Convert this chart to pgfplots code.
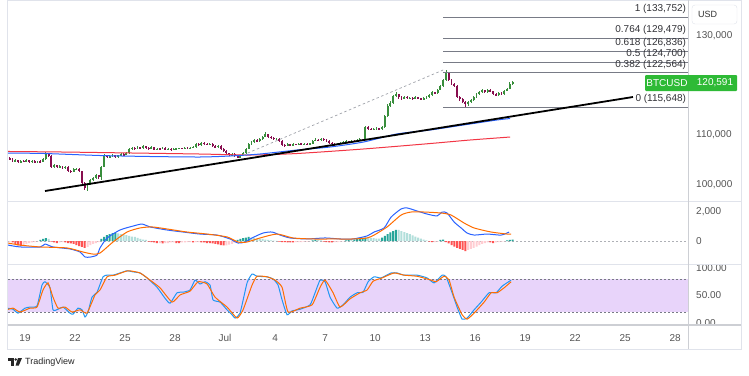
\documentclass[border=0pt]{standalone}
\usepackage{pgfplots}
\pgfplotsset{compat=1.18}
\usepackage{pgfplotstable}
\usepackage{fontspec}
\setmainfont{Liberation Sans}
\definecolor{tvup}{RGB}{56,142,60}
\definecolor{tvdown}{RGB}{136,14,79}
\definecolor{maBlue}{RGB}{41,98,255}
\definecolor{maRed}{RGB}{242,54,69}
\definecolor{sigOrange}{RGB}{255,109,0}
\definecolor{kBlue}{RGB}{33,150,243}
\definecolor{hDT}{RGB}{38,166,154}
\definecolor{hLT}{RGB}{178,223,219}
\definecolor{hR}{RGB}{255,82,82}
\definecolor{hLR}{RGB}{255,205,210}
\definecolor{band}{RGB}{232,212,250}
\definecolor{fibgray}{RGB}{120,123,134}
\definecolor{txt}{RGB}{85,85,85}
\definecolor{fibtxt}{RGB}{50,50,55}
\definecolor{frame}{RGB}{224,227,235}
\definecolor{sep}{RGB}{205,207,212}
\definecolor{tvgreen}{RGB}{46,186,54}

\pgfplotstableread{
i o h l c
0 105400 105600 104900 105100
1 105100 105300 104500 104700
2 104700 105100 104500 104900
3 104900 105000 104300 104500
4 104500 104950 104350 104800
5 104800 105000 104500 104700
6 104700 105100 104500 104900
7 104900 105000 104400 104600
8 104600 105000 104450 104800
9 104800 104900 104300 104500
10 104500 104850 104350 104700
11 104700 104900 104400 104600
12 104600 105300 104500 105100
13 105100 106600 105000 106300
14 106300 106400 105600 105800
15 105800 105900 103300 103500
16 103500 104100 103300 103900
17 103900 104000 103300 103500
18 103500 103900 103300 103700
19 103700 103800 103200 103400
20 103400 103800 103200 103600
21 103600 103700 102600 102800
22 102800 103000 102400 102600
23 102600 103300 102500 103100
24 103100 103400 102900 103200
25 103200 103300 102500 102700
26 102700 102800 99900 100300
27 100300 100500 98900 99300
28 99300 100400 98800 100200
29 100200 101100 100000 100900
30 100900 101500 100700 101300
31 101300 102100 101100 101900
32 101900 102000 101100 101500
33 101500 103800 101000 103600
34 103600 106100 103500 105800
35 105800 106000 105300 105600
36 105600 105950 105400 105700
37 105700 106100 105500 105900
38 105900 106000 105300 105500
39 105500 106050 105350 105900
40 105900 106300 105800 106100
41 106100 106300 105800 106000
42 106000 106500 105900 106300
43 106300 107400 106200 107200
44 107200 107700 107000 107500
45 107500 107600 107000 107200
46 107200 107800 107100 107600
47 107600 107700 107200 107400
48 107400 108000 107300 107800
49 107800 107900 107300 107500
50 107500 107600 107100 107300
51 107300 107750 107200 107600
52 107600 107700 106900 107100
53 107100 107450 106950 107300
54 107300 107500 107000 107200
55 107200 107650 107100 107500
56 107500 107600 106950 107100
57 107100 107450 107000 107300
58 107300 107400 106850 107000
59 107000 107350 106900 107200
60 107200 107400 107100 107300
61 107300 107500 107200 107400
62 107400 107500 107250 107350
63 107350 107600 107250 107500
64 107500 107600 107300 107400
65 107400 107550 107300 107450
66 107450 107750 107350 107600
67 107600 108500 107500 108300
68 108300 108400 107850 108000
69 108000 108700 107900 108500
70 108500 108600 108050 108200
71 108200 108350 107950 108100
72 108100 108500 108000 108300
73 108300 108400 107700 107800
74 107800 107950 107400 107600
75 107600 108050 107500 107900
76 107900 108000 107100 107300
77 107300 107400 106600 106800
78 106800 106900 106100 106300
79 106300 106400 105700 105900
80 105900 106400 105700 106200
81 106200 106300 105500 105700
82 105700 105900 105300 105500
83 105500 106000 105400 105800
84 105800 106500 105700 106300
85 106300 107500 106200 107300
86 107300 108400 107200 108200
87 108200 108900 108000 108700
88 108700 109200 108500 109000
89 109000 109200 108600 108800
90 108800 109500 108700 109300
91 109300 109900 109100 109700
92 109700 110600 109600 110200
93 110200 110300 109400 109600
94 109600 109800 109300 109500
95 109500 109700 109000 109200
96 109200 109500 109000 109300
97 109300 109400 108700 108900
98 108900 109000 107900 108100
99 108100 108300 107700 107900
100 107900 108400 107800 108200
101 108200 108300 107800 108000
102 108000 108350 107900 108200
103 108200 108300 108000 108100
104 108100 108400 108000 108300
105 108300 108400 108100 108200
106 108200 108350 108100 108250
107 108250 108350 108100 108200
108 108200 108450 108100 108300
109 108300 109100 108200 108900
110 108900 109400 108800 109100
111 109100 109200 108800 109000
112 109000 109500 108900 109300
113 109300 109400 108900 109100
114 109100 109200 108700 108900
115 108900 109000 108300 108500
116 108500 108600 108100 108300
117 108300 108400 107900 108100
118 108100 108450 108000 108300
119 108300 108550 108200 108400
120 108400 108750 108300 108600
121 108600 108950 108450 108800
122 108800 108900 108500 108700
123 108700 109050 108600 108900
124 108900 109000 108650 108800
125 108800 109150 108700 109000
126 109000 109400 108900 109200
127 109200 109300 108900 109100
128 109100 111900 109000 111700
129 111700 111800 111100 111300
130 111300 111500 111000 111200
131 111200 111500 111000 111300
132 111300 111600 111100 111400
133 111400 111500 111000 111200
134 111200 111800 111100 111600
135 111600 114000 111500 113800
136 113800 116200 113700 115900
137 115900 116800 115700 116400
138 116400 118100 116300 117800
139 117800 118700 117600 118200
140 118200 118300 117300 117600
141 117600 117800 117100 117400
142 117400 117900 117200 117700
143 117700 117850 117300 117500
144 117500 117700 117300 117500
145 117500 117600 117100 117300
146 117300 117800 117200 117600
147 117600 117700 117200 117400
148 117400 117500 117000 117200
149 117200 117600 117100 117400
150 117400 117800 117300 117600
151 117600 118200 117500 118000
152 118000 118800 117900 118600
153 118600 118700 118200 118400
154 118400 119300 118300 119100
155 119100 120100 119000 119800
156 119800 121300 119700 121000
157 121000 123100 120900 122500
158 122500 122600 120800 121000
159 121000 121200 120100 120300
160 120300 120500 119600 119900
161 119900 120000 117400 117600
162 117600 117800 116900 117300
163 117300 117400 116400 116700
164 116700 116900 115700 116200
165 116200 116800 115900 116600
166 116600 117300 116400 117100
167 117100 117800 116900 117600
168 117600 118400 117400 118200
169 118200 118900 118000 118700
170 118700 119300 118500 119000
171 119000 119100 118400 118600
172 118600 119300 118500 119100
173 119100 119200 118600 118800
174 118800 118900 118100 118300
175 118300 118400 117800 118000
176 118000 118700 117900 118500
177 118500 118600 118000 118200
178 118200 119100 118100 118900
179 118900 119500 118800 119300
180 119300 120700 119200 120300
181 120300 120900 120100 120591
}\candles

\pgfplotstableread{
i v k
0 -70 4
1 -100 3
2 -200 3
3 -300 3
4 -345 3
5 -280 4
6 -200 4
7 -140 4
8 -100 4
9 -70 4
10 -30 4
11 70 1
12 140 1
13 200 1
14 140 2
15 -50 3
16 -100 3
17 -140 3
18 -100 4
19 -70 4
20 -100 3
21 -140 3
22 -170 3
23 -200 3
24 -280 3
25 -345 3
26 -410 3
27 -480 3
28 -410 4
29 -280 4
30 -200 4
31 -140 4
32 -70 4
33 140 1
34 280 1
35 410 1
36 480 1
37 550 1
38 560 1
39 520 2
40 480 2
41 450 2
42 410 2
43 350 2
44 310 2
45 280 2
46 210 2
47 140 2
48 100 2
49 70 2
50 -35 3
51 -70 3
52 -100 3
53 -140 3
54 -140 4
55 -170 3
56 -140 4
57 -140 4
58 -100 4
59 -100 4
60 -140 3
61 -140 3
62 -100 4
63 -100 4
64 -70 4
65 -70 4
66 -100 3
67 -70 4
68 -70 4
69 -100 3
70 -100 3
71 -140 3
72 -140 3
73 -170 3
74 -200 3
75 -240 3
76 -280 3
77 -310 3
78 -300 4
79 -250 4
80 -200 4
81 -120 4
82 70 1
83 140 1
84 200 1
85 240 1
86 280 1
87 240 2
88 210 2
89 170 2
90 140 2
91 140 2
92 100 2
93 70 2
94 35 2
95 20 2
96 10 2
97 -35 3
98 -70 3
99 -70 3
100 -100 3
101 -100 3
102 -100 3
103 -70 4
104 -70 4
105 -70 4
106 -35 4
107 -35 4
108 -20 4
109 35 1
110 70 1
111 70 2
112 35 2
113 -35 3
114 -70 3
115 -100 3
116 -100 3
117 -70 4
118 -70 4
119 -35 4
120 -20 4
121 35 1
122 70 1
123 70 2
124 100 1
125 140 1
126 170 1
127 210 1
128 240 1
129 240 2
130 210 2
131 200 2
132 170 2
133 170 2
134 240 1
135 350 1
136 480 1
137 590 1
138 690 1
139 760 1
140 760 2
141 690 2
142 620 2
143 550 2
144 480 2
145 380 2
146 310 2
147 240 2
148 170 2
149 100 2
150 35 2
151 -35 3
152 -70 3
153 -70 4
154 -35 4
155 70 1
156 100 1
157 -70 3
158 -170 3
159 -280 3
160 -380 3
161 -480 3
162 -550 3
163 -620 3
164 -690 3
165 -620 4
166 -550 4
167 -480 4
168 -380 4
169 -280 4
170 -200 4
171 -140 4
172 -100 4
173 -100 3
174 -140 3
175 -100 4
176 -70 4
177 -50 4
178 -20 4
179 35 1
180 70 1
181 100 1
}\hist

\pgfplotsset{
  tvpane/.style={
    scale only axis, width=680pt, xmin=-1.02, xmax=39.77,
    anchor=north west,
    axis line style={draw=none}, tick style={draw=none}, major tick length=0pt,
    yticklabel pos=right,
    yticklabel style={anchor=west, inner sep=0pt, xshift=8pt},
    ticklabel style={font=\fontsize{10}{12}\selectfont, text=txt},
    /pgf/number format/assume math mode=true,
    scaled ticks=false,
    xtick=\empty,
  },
  fibline/.style={fibgray, line width=0.8pt, forget plot},
}
\tikzset{fiblabel/.style={anchor=base east, inner sep=0pt, yshift=5.5pt, font=\fontsize{10}{12}\selectfont, text=fibtxt}}

\begin{document}
\begin{tikzpicture}
\useasboundingbox[fill=white] (0pt,0pt) rectangle (749pt,-375pt);

% ---------------- main price pane ----------------
\begin{axis}[tvpane, at={(8pt,0pt)}, height=200pt,
  ymin=96940, ymax=137172,
  ytick={100000,110000,130000},
  yticklabel style={/pgf/number format/.cd, fixed, 1000 sep={,}},
]
% wicks
\addplot[draw=none, mark=none, forget plot, error bars/.cd, y dir=both, y explicit, error mark=none,
  error bar style={draw=tvup, line width=0.7pt}]
  table[x expr=\thisrow{i}/6-0.9167, y expr={\thisrow{c}>=\thisrow{o} ? (\thisrow{h}+\thisrow{l})/2 : nan}, y error expr={(\thisrow{h}-\thisrow{l})/2}] {\candles};
\addplot[draw=none, mark=none, forget plot, error bars/.cd, y dir=both, y explicit, error mark=none,
  error bar style={draw=tvdown, line width=0.7pt}]
  table[x expr=\thisrow{i}/6-0.9167, y expr={\thisrow{c}<\thisrow{o} ? (\thisrow{h}+\thisrow{l})/2 : nan}, y error expr={(\thisrow{h}-\thisrow{l})/2}] {\candles};
% bodies
\addplot[draw=none, mark=none, forget plot, error bars/.cd, y dir=both, y explicit, error mark=none,
  error bar style={draw=tvup, line width=1.9pt}]
  table[x expr=\thisrow{i}/6-0.9167, y expr={\thisrow{c}>=\thisrow{o} ? (\thisrow{o}+\thisrow{c})/2 : nan}, y error expr={max(abs(\thisrow{c}-\thisrow{o})/2,60)}] {\candles};
\addplot[draw=none, mark=none, forget plot, error bars/.cd, y dir=both, y explicit, error mark=none,
  error bar style={draw=tvdown, line width=1.9pt}]
  table[x expr=\thisrow{i}/6-0.9167, y expr={\thisrow{c}<\thisrow{o} ? (\thisrow{o}+\thisrow{c})/2 : nan}, y error expr={max(abs(\thisrow{c}-\thisrow{o})/2,60)}] {\candles};
% moving averages
\addplot[maRed, line width=1pt, smooth, tension=0.4] coordinates {
(-1.02,106700) (2.1,106600) (6.3,106400) (10.5,106190) (13.5,105990) (16.3,106290) (20.3,107200) (24.3,108300) (26.7,109010) (29.1,109610)};
\addplot[maBlue, line width=1pt, smooth, tension=0.4] coordinates {
(-1.02,106394) (1.2,106290) (4.5,105890) (7.5,105690) (10.5,105590) (12.3,105790) (14.1,106190) (16.3,106990) (18.3,107600) (20.3,108600) (22.3,110220) (24.3,111020) (26.3,112030) (28.3,113030) (29.1,113330)};
% fibonacci levels
\addplot[fibline] coordinates {(25.08,133752) (39.77,133752)};
\addplot[fibline] coordinates {(25.08,129479) (39.77,129479)};
\addplot[fibline] coordinates {(25.08,126836) (39.77,126836)};
\addplot[fibline] coordinates {(25.08,124700) (39.77,124700)};
\addplot[fibline] coordinates {(25.08,122564) (39.77,122564)};
\addplot[fibline] coordinates {(25.08,115648) (39.77,115648)};
\node[fiblabel] at (axis cs:39.66,133752) {1 (133,752)};
\node[fiblabel] at (axis cs:39.66,129479) {0.764 (129,479)};
\node[fiblabel] at (axis cs:39.66,126836) {0.618 (126,836)};
\node[fiblabel] at (axis cs:39.66,124700) {0.5 (124,700)};
\node[fiblabel] at (axis cs:39.66,122564) {0.382 (122,564)};
\node[fiblabel] at (axis cs:39.66,115648) {0 (115,648)};
% fib diagonal
\addplot[fibgray!70, line width=0.7pt, dash pattern=on 2.5pt off 2.5pt] coordinates {(13.08,105990) (25.08,123090)};
% trendline
\addplot[black, line width=1.8pt] coordinates {(1.2,98750) (36.47,117660)};
\end{axis}

% ---------------- MACD pane ----------------
\begin{axis}[tvpane, at={(8pt,-201pt)}, height=63pt,
  ymin=-1587, ymax=2760,
  ytick={0,2000},
  yticklabel style={/pgf/number format/.cd, fixed, 1000 sep={,}},
]
\addplot[fibgray!60, line width=0.6pt, dash pattern=on 2pt off 2pt, forget plot] coordinates {(-1.02,0) (39.77,0)};
\addplot[ybar, bar width=0.12, bar shift=0pt, fill=hDT, draw=none, forget plot]
  table[x expr=\thisrow{i}/6-0.9167, y expr={\thisrow{k}==1 ? \thisrow{v} : nan}] {\hist};
\addplot[ybar, bar width=0.12, bar shift=0pt, fill=hLT, draw=none, forget plot]
  table[x expr=\thisrow{i}/6-0.9167, y expr={\thisrow{k}==2 ? \thisrow{v} : nan}] {\hist};
\addplot[ybar, bar width=0.12, bar shift=0pt, fill=hR, draw=none, forget plot]
  table[x expr=\thisrow{i}/6-0.9167, y expr={\thisrow{k}==3 ? \thisrow{v} : nan}] {\hist};
\addplot[ybar, bar width=0.12, bar shift=0pt, fill=hLR, draw=none, forget plot]
  table[x expr=\thisrow{i}/6-0.9167, y expr={\thisrow{k}==4 ? \thisrow{v} : nan}] {\hist};
\addplot[maBlue, line width=1pt, smooth, tension=0.4] coordinates {
(-1.02,-280) (-0.3,-410) (0.9,-420) (1.2,-210) (1.68,-410) (2.7,-550) (3.3,-760) (3.6,-1100) (3.9,-1110) (4.32,-970) (4.5,-480) (4.92,200) (5.7,760) (6.48,1030) (7.02,1170) (7.5,970) (8.52,760) (9.48,620) (10.5,480) (11.52,410) (12.3,140) (12.78,-140) (13.2,-70) (13.62,210) (14.28,550) (14.82,620) (15.3,410) (15.9,210) (16.92,140) (18.0,210) (18.9,140) (19.68,140) (20.52,350) (20.94,620) (21.54,900) (21.96,1650) (22.56,2210) (22.92,2280) (23.52,2070) (24.12,1860) (24.72,1730) (25.02,2000) (25.32,1930) (25.74,1310) (26.16,900) (26.52,550) (26.94,410) (27.72,480) (28.56,410) (29.04,620)};
\addplot[sigOrange, line width=1pt, smooth, tension=0.4] coordinates {
(-1.02,-140) (-0.3,-280) (0.9,-410) (2.52,-480) (3.48,-760) (4.08,-900) (4.5,-830) (5.28,-70) (6.12,620) (6.9,900) (7.62,970) (8.52,830) (9.72,620) (10.92,480) (12.12,280) (12.78,-70) (13.32,-70) (14.1,210) (15.12,480) (16.08,210) (17.28,140) (18.48,140) (19.68,140) (20.52,210) (20.94,410) (21.72,970) (22.56,1790) (23.16,2000) (23.94,2000) (24.96,1930) (25.56,1790) (26.34,1240) (26.94,900) (27.96,620) (28.92,480) (29.16,480)};
\end{axis}

% ---------------- Stochastic pane ----------------
\begin{axis}[tvpane, at={(8pt,-264pt)}, height=61pt,
  ymin=-3.64, ymax=107.3,
  ytick={0,50,100},
  yticklabel style={/pgf/number format/.cd, fixed, fixed zerofill, precision=2},
  xtick={0,3,...,39},
  xticklabels={19,22,25,28,Jul,4,7,10,13,16,19,22,25,28},
  xticklabel style={anchor=north, inner sep=0pt, yshift=-9pt},
]
\fill[band] (axis cs:-1.02,20) rectangle (axis cs:39.77,80);
\addplot[fibgray, line width=0.6pt, dash pattern=on 2pt off 2pt, forget plot] coordinates {(-1.02,80) (39.77,80)};
\addplot[fibgray, line width=0.6pt, dash pattern=on 2pt off 2pt, forget plot] coordinates {(-1.02,20) (39.77,20)};
\addplot[kBlue, line width=1pt, smooth, tension=0.3] coordinates {
(-1.08,27) (-0.72,25) (-0.42,18) (0,27) (0.3,29) (0.72,31) (1.02,69) (1.2,75) (1.5,64) (1.68,24) (1.98,25) (2.28,29) (2.7,18) (2.88,16) (3.18,27) (3.42,24) (3.6,11) (3.78,20) (4.02,47) (4.32,56) (4.68,84) (4.92,87) (5.28,87) (5.7,91) (6.12,95) (6.48,93) (6.9,91) (7.32,82) (7.92,65) (8.4,45) (8.7,36) (9.12,55) (9.48,56) (9.9,60) (10.2,78) (10.5,71) (10.8,75) (11.1,69) (11.28,42) (11.7,38) (12.12,24) (12.42,15) (12.6,9) (12.9,18) (13.32,73) (13.62,89) (13.92,85) (14.52,84) (14.88,80) (15.18,69) (15.42,42) (15.72,15) (16.02,22) (16.5,25) (17.1,33) (17.4,55) (17.7,78) (18.0,75) (18.3,47) (18.72,27) (19.08,33) (19.5,47) (19.92,55) (20.28,56) (20.58,75) (20.94,84) (21.36,82) (21.96,91) (22.32,91) (22.74,87) (23.52,87) (24.12,82) (24.54,73) (25.02,87) (25.26,84) (25.62,55) (25.92,29) (26.22,7) (26.52,9) (26.94,24) (27.36,38) (27.84,55) (28.26,55) (28.62,67) (29.16,78)};
\addplot[sigOrange, line width=1pt, smooth, tension=0.3] coordinates {
(-1.08,24) (-0.72,27) (-0.3,20) (0.3,27) (0.72,29) (1.08,60) (1.38,73) (1.68,47) (1.98,27) (2.4,29) (2.82,20) (3.3,24) (3.72,18) (4.2,51) (4.5,60) (4.92,84) (5.4,87) (6.18,95) (6.9,91) (7.5,78) (8.1,64) (8.82,38) (9.3,51) (9.9,58) (10.38,75) (10.92,71) (11.4,47) (12.12,29) (12.72,9) (13.08,24) (13.62,69) (13.92,85) (14.52,84) (15.0,78) (15.42,65) (15.78,20) (16.5,27) (17.22,33) (17.7,65) (18.0,78) (18.48,55) (18.9,29) (19.5,44) (20.1,55) (20.52,60) (20.88,76) (21.42,82) (22.14,91) (22.74,87) (23.52,85) (24.36,78) (24.66,75) (25.14,85) (25.44,78) (25.74,47) (26.22,15) (26.52,7) (26.94,18) (27.54,38) (27.96,55) (28.32,55) (28.74,64) (29.16,75)};
\end{axis}

% ---------------- frame and decorations ----------------
\fill[white] (689.5pt,-326pt) rectangle (740.5pt,-348.5pt);
\draw[frame, line width=0.8pt] (7.5pt,-0.5pt) rectangle (741pt,-349pt);
\draw[frame, line width=0.8pt] (7.5pt,-201pt) -- (741pt,-201pt);
\draw[frame, line width=0.8pt] (7.5pt,-264pt) -- (741pt,-264pt);
\draw[sep, line width=1.5pt] (7.5pt,-325pt) -- (741pt,-325pt);
\draw[sep, line width=1.5pt] (688.5pt,0pt) -- (688.5pt,-349pt);
% USD box
\draw[frame, fill=white, rounded corners=3pt] (692pt,-5pt) rectangle (737pt,-24pt);
\node[anchor=west, inner sep=0pt, font=\fontsize{9}{11}\selectfont, text=black!80] at (698pt,-14.5pt) {USD};
% last price label
\fill[tvgreen, rounded corners=1pt] (645pt,-75pt) rectangle (737pt,-91pt);
\node[inner sep=0pt, font=\fontsize{10}{12}\selectfont, text=white] at (667pt,-83pt) {BTCUSD};
\node[inner sep=0pt, font=\fontsize{10}{12}\selectfont, text=white] at (715pt,-83pt) {120,591};
% TradingView logo
\fill[black!85] (7.5pt,-358pt) rectangle (13.5pt,-360.5pt);
\fill[black!85] (10.8pt,-358pt) rectangle (13.5pt,-365.5pt);
\fill[black!85] (15.8pt,-359.5pt) circle (1.4pt);
\fill[black!85] (18pt,-358pt) -- (22pt,-358pt) -- (18.8pt,-365.5pt) -- (15.6pt,-365.5pt) -- cycle;
\node[anchor=west, inner sep=0pt, font=\fontsize{9}{11}\selectfont, text=black!85] at (25pt,-362pt) {TradingView};
\end{tikzpicture}
\end{document}
